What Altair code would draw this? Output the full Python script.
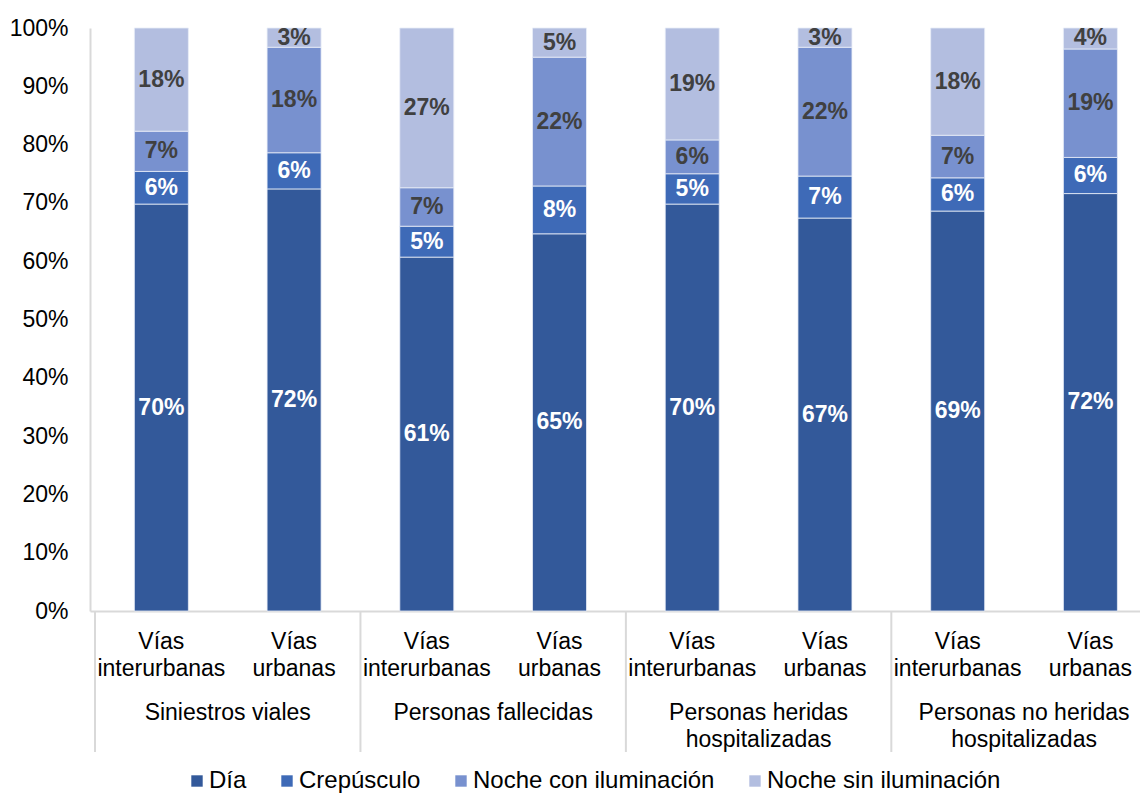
import altair as alt
import pandas as pd

# ---- data ----
groups = ["Siniestros viales", "Personas fallecidas",
          "Personas heridas\nhospitalizadas", "Personas no heridas\nhospitalizadas"]
vias = ["Vías\ninterurbanas", "Vías\nurbanas"]
series = ["Día", "Crepúsculo", "Noche con iluminación", "Noche sin iluminación"]
colors = ["#33599a", "#3e6ab7", "#7891cf", "#b3bee0"]

dia = [69.8, 72.4, 60.7, 64.7, 69.8, 67.4, 68.6, 71.6]
crep = [5.6, 6.2, 5.3, 8.2, 5.2, 7.2, 5.7, 6.2]
con_ilum = [6.9, 18.1, 6.6, 22.1, 5.8, 22.1, 7.3, 18.6]
sin_ilum = [17.7, 3.3, 27.4, 5.0, 19.2, 3.3, 18.4, 3.6]
y_ticks = [0, 10, 20, 30, 40, 50, 60, 70, 80, 90, 100]

# ---- tables ----
rows = []
for i in range(8):
    for s_i, vals in enumerate([dia, crep, con_ilum, sin_ilum]):
        rows.append({"idx": i, "serie": series[s_i], "ord": s_i, "value": vals[i]})
df = pd.DataFrame(rows)

sub_df = pd.DataFrame({"idx": list(range(8)), "label": [vias[i % 2] for i in range(8)]})
grp_df = pd.DataFrame({"g": list(range(4)), "label": groups})
sep_df = pd.DataFrame({"g": list(range(4))})

FONT = "Liberation Sans"
FS = 23
xscale = alt.Scale(domain=[-0.5, 7.336], nice=False, zero=False)
yscale = alt.Scale(domain=[0, 100], nice=False, zero=True)
xaxis = alt.Axis(title=None, labels=False, ticks=False, grid=False,
                 domainColor="#d9d9d9", domainWidth=2)
yaxis = alt.Axis(title=None, values=y_ticks, labelExpr="datum.value + '%'",
                 ticks=False, grid=False, labelPadding=22, labelFontSize=FS,
                 labelFont=FONT, labelColor="black",
                 domainColor="#d9d9d9", domainWidth=2)

base = alt.Chart(df).transform_stack(
    stack="value", groupby=["idx"], as_=["y0", "y1"],
    sort=[alt.SortField(field="ord", order="ascending")]
).transform_calculate(
    mid="(datum.y0 + datum.y1) / 2",
    lab="format(datum.value, '.0f') + '%'"
)

bars = base.mark_bar(width=54, stroke="#e8edf8", strokeWidth=0.8).encode(
    x=alt.X("idx:Q", scale=xscale, axis=xaxis),
    y=alt.Y("y0:Q", scale=yscale, axis=yaxis),
    y2="y1:Q",
    color=alt.Color("serie:N", scale=alt.Scale(domain=series, range=colors),
                    legend=alt.Legend(title=None, orient="none", legendX=95, legendY=741,
                                      direction="horizontal", symbolType="square",
                                      symbolSize=130, symbolStrokeWidth=0,
                                      labelFontSize=24, labelFont=FONT, labelColor="black",
                                      columnPadding=28, labelOffset=0, labelLimit=400)),
)

labels = base.mark_text(fontSize=FS, fontWeight="bold", font=FONT, baseline="middle").encode(
    x=alt.X("idx:Q", scale=xscale, axis=xaxis),
    y=alt.Y("mid:Q", scale=yscale, axis=yaxis),
    text="lab:N",
    color=alt.condition("datum.ord < 2", alt.value("white"), alt.value("#404040")),
)

sub_labels = alt.Chart(sub_df).transform_calculate(
    lines="split(datum.label, '\\n')"
).mark_text(fontSize=FS, font=FONT, color="black", baseline="alphabetic", lineHeight=27).encode(
    x=alt.X("idx:Q", scale=xscale, axis=xaxis),
    y=alt.value(621),
    text="lines:N",
)

grp_labels = alt.Chart(grp_df).transform_calculate(
    pos="2 * datum.g + 0.5",
    lines="split(datum.label, '\\n')"
).mark_text(fontSize=FS, font=FONT, color="black", baseline="alphabetic", lineHeight=27).encode(
    x=alt.X("pos:Q", scale=xscale, axis=xaxis),
    y=alt.value(692),
    text="lines:N",
)

seps = alt.Chart(sep_df).transform_calculate(
    pos="2 * datum.g - 0.5"
).mark_rule(color="#d9d9d9", strokeWidth=2).encode(
    x=alt.X("pos:Q", scale=xscale, axis=xaxis),
    y=alt.value(583),
    y2=alt.value(724),
)

chart = alt.layer(bars, labels, seps, sub_labels, grp_labels).properties(
    width=1050, height=583,
    padding={"left": 82, "top": 20, "right": 0, "bottom": 183},
    autosize=alt.AutoSizeParams(type="none"),
).configure_view(stroke=None)

chart.save("out.html", embed_options={"renderer": "svg", "actions": False})
